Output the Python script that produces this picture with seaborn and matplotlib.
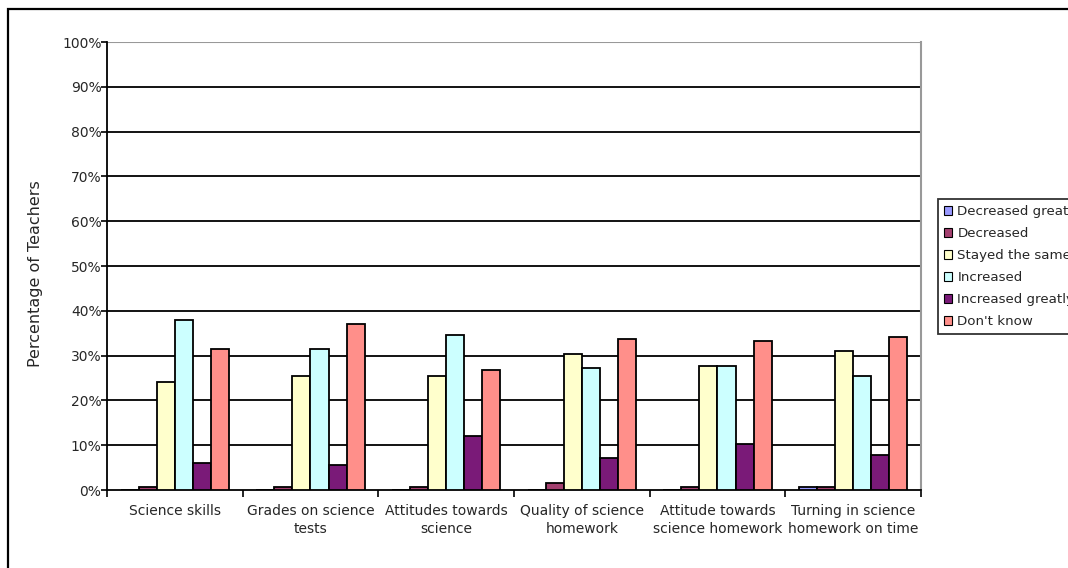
import matplotlib
matplotlib.use("Agg")
import matplotlib.pyplot as plt
from matplotlib.patches import Rectangle
from matplotlib.ticker import PercentFormatter, FixedLocator
import seaborn as sns
import pandas as pd

categories = [
    "Science skills",
    "Grades on science\ntests",
    "Attitudes towards\nscience",
    "Quality of science\nhomework",
    "Attitude towards\nscience homework",
    "Turning in science\nhomework on time",
]
responses = ["Decreased greatly", "Decreased", "Stayed the same",
             "Increased", "Increased greatly", "Don't know"]

decreased_greatly = [0.0, 0.0, 0.0, 0.0, 0.0, 0.7]
decreased = [0.7, 0.7, 0.7, 1.5, 0.7, 0.7]
stayed_same = [24.1, 25.4, 25.4, 30.4, 27.7, 31.1]
increased = [37.9, 31.5, 34.6, 27.2, 27.7, 25.4]
increased_greatly = [6.0, 5.6, 12.1, 7.1, 10.3, 7.8]
dont_know = [31.5, 37.1, 26.8, 33.7, 33.3, 34.2]

colors = ["#9999FF", "#A3406F", "#FFFFCC", "#CCFFFF", "#7A1A78", "#FF8F8A"]

series = [decreased_greatly, decreased, stayed_same, increased,
          increased_greatly, dont_know]
rows = []
for resp, vals in zip(responses, series):
    for cat, v in zip(categories, vals):
        rows.append({"item": cat, "response": resp, "value": v})
df = pd.DataFrame(rows)

sns.set_style("white")
plt.rcParams["font.family"] = ["DejaVu Sans"]

fig = plt.figure(figsize=(10.68, 5.68), dpi=100)
ax = fig.add_axes([107 / 1068, 78 / 568, 814 / 1068, 448 / 568])

sns.barplot(data=df, x="item", y="value", hue="response",
            order=categories, hue_order=responses, palette=colors,
            saturation=1, width=0.8, edgecolor="black", linewidth=1.3,
            errorbar=None, ax=ax, zorder=3)

ax.set_xlim(-0.5, len(categories) - 0.5)
ax.set_ylim(0, 100)
ax.yaxis.set_major_locator(FixedLocator(range(0, 101, 10)))
ax.yaxis.set_major_formatter(PercentFormatter(decimals=0))

# horizontal gridlines, the top one lighter
for v in range(10, 100, 10):
    ax.axhline(v, color="black", linewidth=1.3, zorder=1)
ax.axhline(100, color="#999999", linewidth=1.5, zorder=1)

ax.spines["top"].set_visible(False)
ax.spines["right"].set_color("#999999")
ax.spines["right"].set_linewidth(1.5)
ax.spines["left"].set_color("black")
ax.spines["left"].set_linewidth(1.3)
ax.spines["bottom"].set_color("black")
ax.spines["bottom"].set_linewidth(1.3)

ax.tick_params(axis="y", direction="out", length=4, width=1.2, color="black",
               left=True, labelsize=10, pad=0)
ax.tick_params(axis="x", which="major", length=0, labelsize=10, pad=10)
ax.set_xticks([i - 0.5 for i in range(len(categories) + 1)], minor=True)
ax.tick_params(axis="x", which="minor", direction="out", length=5, width=1.2,
               color="black", bottom=True)
ax.set_xticks(range(len(categories)))
ax.set_xticklabels(categories, linespacing=1.35)

ax.set_xlabel("")
ax.set_ylabel("Percentage of Teachers", fontsize=11.5)
ax.yaxis.set_label_coords(-0.079, 0.482)

leg = ax.legend(loc="upper left", bbox_to_anchor=(938 / 1068, 1 - 199 / 568),
                bbox_transform=fig.transFigure, frameon=True, fontsize=9.6,
                handlelength=0.6, handleheight=0.6, handletextpad=0.4,
                labelspacing=0.68, borderpad=0.45, borderaxespad=0,
                fancybox=False, title=None)
leg.get_frame().set_edgecolor("black")
leg.get_frame().set_linewidth(1.3)
for h in leg.legend_handles:
    h.set_edgecolor("black")
    h.set_linewidth(0.8)

# outer chart border
fig.patches.append(Rectangle((8 / 1068, -0.1), 1.2, 1 - 9 / 568 + 0.1,
                             transform=fig.transFigure, fill=False,
                             edgecolor="black", linewidth=1.6, clip_on=False))

fig.savefig("out.png", dpi=100)
